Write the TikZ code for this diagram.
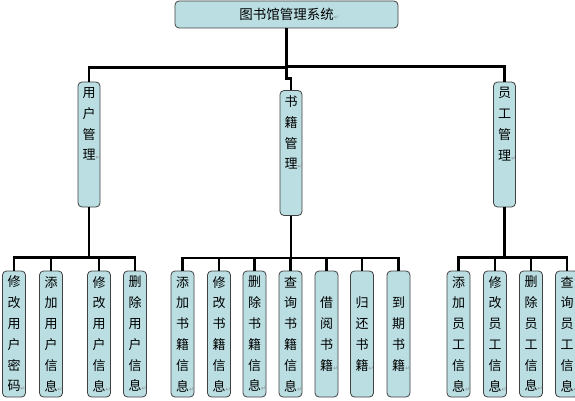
\documentclass[tikz,border=0pt]{standalone}
\usepackage{fontspec}
\newfontfamily\cjk{Noto Sans CJK SC}
\newfontfamily\symfont{DejaVu Sans}
\newcommand{\retmark}{\rlap{\textcolor{black!45}{\symfont\fontsize{6}{6}\selectfont ↵}}}
\definecolor{boxblue}{RGB}{186,222,226}
\tikzset{
  box/.style={draw=black!75, fill=boxblue, rounded corners=4pt, inner sep=0pt,
    line width=0.8pt, align=center,
    font=\cjk\fontsize{13}{20.8}\selectfont}, % common look of every box
  root/.style={box, minimum width=223pt, minimum height=27pt,
    font=\cjk\fontsize{13.5}{16}\selectfont}, % the top box
  group/.style={box, minimum width=22pt, minimum height=125pt}, % second level
  leaf/.style={box, minimum width=23pt, minimum height=126pt}, % bottom level
  conn/.style={line width=2.6pt, black}, % the tree lines
}

\begin{document}
\begin{tikzpicture}[x=1pt, y=-1pt]
  \useasboundingbox (0,0) rectangle (575,401);

  \node[root] (sys) at (286.5,14.5) {图书馆管理系统\retmark};

  \node[group] (user)  at (89,144.5)  {用\\户\\管\\理\retmark\\\mbox{}\\\mbox{}};
  \node[group] (book)  at (291,153)   {书\\籍\\管\\理\retmark\\\mbox{}\\\mbox{}};
  \node[group] (staff) at (504.5,144.5) {员\\工\\管\\理\retmark\\\mbox{}\\\mbox{}};

  % user management
  \node[leaf] (upwd)  at (14,334)  {修\\改\\用\\户\\密\\码\retmark};
  \node[leaf] (uadd)  at (51,334)  {添\\加\\用\\户\\信\\息\retmark};
  \node[leaf] (uedit) at (99,334)  {修\\改\\用\\户\\信\\息\retmark};
  \node[leaf] (udel)  at (135,334) {删\\除\\用\\户\\信\\息\retmark};

  % book management
  \node[leaf] (badd)    at (182.5,334) {添\\加\\书\\籍\\信\\息\retmark};
  \node[leaf] (bedit)   at (219,334)   {修\\改\\书\\籍\\信\\息\retmark};
  \node[leaf] (bdel)    at (254.5,334) {删\\除\\书\\籍\\信\\息\retmark};
  \node[leaf] (bquery)  at (290.5,334) {查\\询\\书\\籍\\信\\息\retmark};
  \node[leaf] (blend)   at (326.5,334) {借\\阅\\书\\籍\retmark};
  \node[leaf] (breturn) at (362,334)   {归\\还\\书\\籍\retmark};
  \node[leaf] (bdue)    at (398.5,334) {到\\期\\书\\籍\retmark};

  % staff management
  \node[leaf] (sadd)   at (458.5,334) {添\\加\\员\\工\\信\\息\retmark};
  \node[leaf] (sedit)  at (495,334)   {修\\改\\员\\工\\信\\息\retmark};
  \node[leaf] (sdel)   at (531,334)   {删\\除\\员\\工\\信\\息\retmark};
  \node[leaf] (squery) at (567,334)   {查\\询\\员\\工\\信\\息\retmark};

  \draw[conn] (sys.south) -- ++(0,39) -| (user.north);
  \draw[conn] (sys.south) -- ++(0,50) -| (book.north);
  \draw[conn] (sys.south) -- ++(0,38) -| (staff.north);

  \draw[conn] (user.south) -- ++(0,50) -| (upwd.north)
    (user.south) -- ++(0,50) -| (uadd.north)
    (user.south) -- ++(0,50) -| (uedit.north)
    (user.south) -- ++(0,50) -| (udel.north);

  \draw[conn] (book.south) -- ++(0,42) -| (badd.north)
    (book.south) -- ++(0,42) -| (bedit.north)
    (book.south) -- ++(0,42) -| (bdel.north)
    (book.south) -- ++(0,42) -| (bquery.north)
    (book.south) -- ++(0,42) -| (blend.north)
    (book.south) -- ++(0,42) -| (breturn.north)
    (book.south) -- ++(0,42) -| (bdue.north);

  \draw[conn] (staff.south) -- ++(0,50) -| (sadd.north)
    (staff.south) -- ++(0,50) -| (sedit.north)
    (staff.south) -- ++(0,50) -| (sdel.north)
    (staff.south) -- ++(0,50) -| (squery.north);
\end{tikzpicture}
\end{document}
